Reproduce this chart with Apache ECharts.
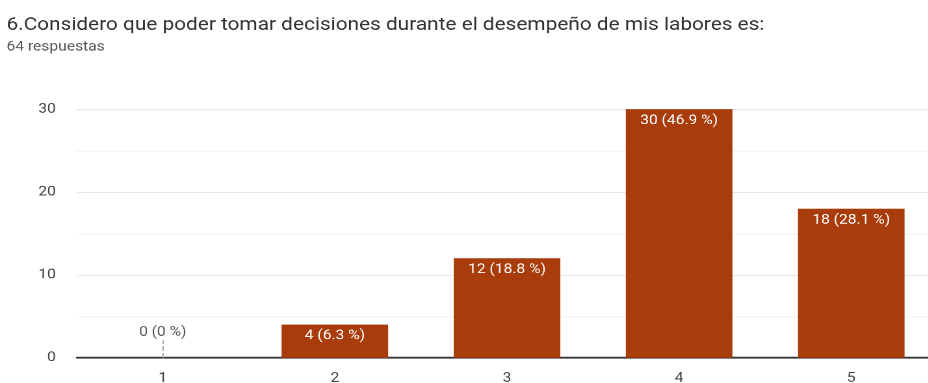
<!DOCTYPE html>
<html>
<head>
<meta charset="utf-8">
<script src="https://cdn.jsdelivr.net/npm/echarts@6/dist/echarts.min.js"></script>
<style>
  html, body { margin: 0; padding: 0; background: #fff; overflow: hidden; width: 928px; height: 383px; }
  /* the chart is laid out at a compact size and stretched wider than tall */
  #chart { width: 730px; height: 333px; transform: scale(1.3, 1.15); transform-origin: 0 0; }
</style>
</head>
<body>
<div id="chart"></div>
<script>
const titleText = '6.Considero que poder tomar decisiones durante el desempeño de mis labores es:';
const subtitleText = '64 respuestas';
const categories = ['1', '2', '3', '4', '5'];
const counts = [0, 4, 12, 30, 18];
const percents = ['0', '6.3', '18.8', '46.9', '28.1'];

const barColor = '#a83c0a';
const font = 'Roboto';

const chart = echarts.init(document.getElementById('chart'), null, { devicePixelRatio: 2 });
chart.setOption({
  animation: false,
  title: [
    {
      text: titleText,
      left: 5,
      top: 14,
      padding: 0,
      textStyle: { fontFamily: font, fontSize: 16, fontWeight: 'normal', color: '#333' }
    },
    {
      text: subtitleText,
      left: 5,
      top: 35,
      padding: 0,
      textStyle: { fontFamily: font, fontSize: 12, fontWeight: 'normal', color: '#555' }
    }
  ],
  grid: {
    left: 59, top: 95, width: 662, height: 216,
    containLabel: false,
    outerBoundsMode: 'none'
  },
  xAxis: {
    type: 'category',
    data: categories,
    axisLine: { lineStyle: { color: '#333', width: 1.5 } },
    axisTick: {
      show: true,
      alignWithLabel: true,
      inside: true,
      length: 15,
      interval: (i) => counts[i] === 0,
      lineStyle: { color: '#aaa', type: 'dashed' }
    },
    axisLabel: { fontFamily: font, fontSize: 12, color: '#444', margin: 12 }
  },
  yAxis: {
    type: 'value',
    min: 0,
    max: 30,
    interval: 10,
    axisLine: { show: false },
    axisTick: { show: false },
    axisLabel: { fontFamily: font, fontSize: 12, color: '#444', margin: 16 },
    splitLine: { lineStyle: { color: '#e6e6e6' } },
    minorTick: { show: false, splitNumber: 2 },
    minorSplitLine: { show: true, lineStyle: { color: '#f3f3f3' } }
  },
  series: [{
    type: 'bar',
    data: counts.map((v) => ({
      value: v,
      label: v === 0
        ? { position: 'top', distance: 16, color: '#555' }
        : { position: 'insideTop', distance: 4, color: '#fff' }
    })),
    barWidth: 82,
    itemStyle: { color: barColor },
    label: {
      show: true,
      fontFamily: font,
      fontSize: 12,
      formatter: (p) => counts[p.dataIndex] + ' (' + percents[p.dataIndex] + ' %)'
    }
  }]
});
</script>
</body>
</html>
